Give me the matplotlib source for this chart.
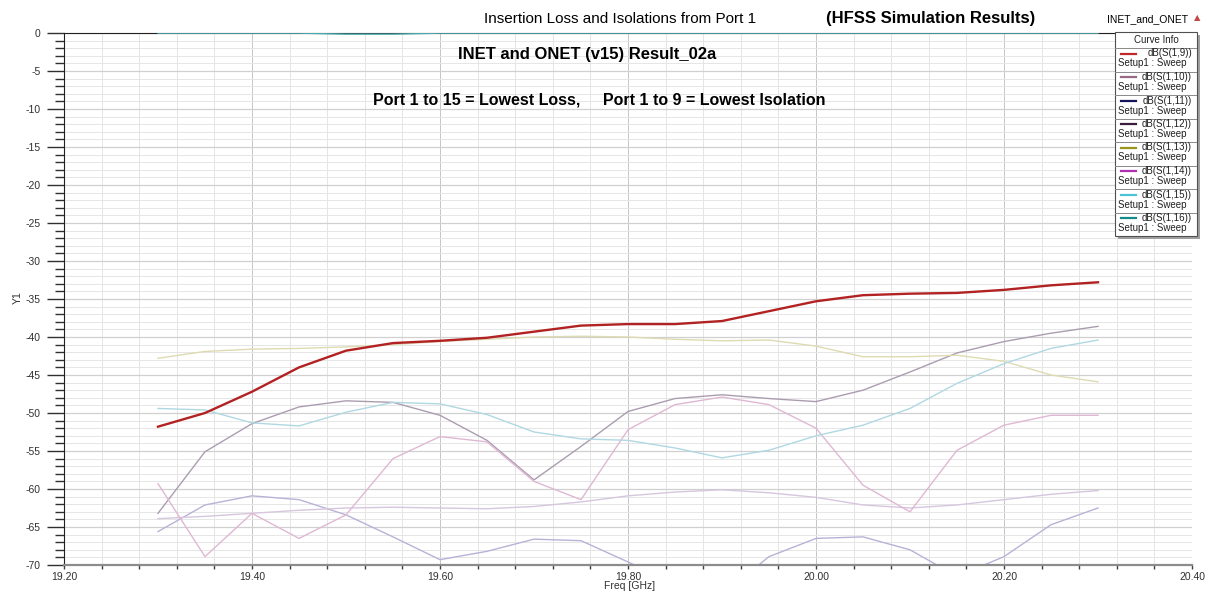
import matplotlib
matplotlib.use('Agg')
import matplotlib.pyplot as plt
from matplotlib.ticker import MultipleLocator, FuncFormatter
from matplotlib.patches import Rectangle

plt.rcParams['font.family'] = ['Liberation Sans', 'DejaVu Sans']
plt.rcParams['axes.unicode_minus'] = False

## frequency sweep points (GHz)
freq = [19.30, 19.35, 19.40, 19.45, 19.50, 19.55, 19.60, 19.65, 19.70, 19.75, 19.80,
        19.85, 19.90, 19.95, 20.00, 20.05, 20.10, 20.15, 20.20, 20.25, 20.30]

## S-parameters in dB
s_1_9 = [-51.8, -50.0, -47.2, -44.0, -41.8, -40.8, -40.5, -40.1, -39.3, -38.5, -38.3,
         -38.3, -37.9, -36.6, -35.3, -34.5, -34.3, -34.2, -33.8, -33.2, -32.8]
s_1_10 = [-63.2, -55.1, -51.4, -49.2, -48.4, -48.6, -50.3, -53.6, -58.8, -54.4, -49.8,
          -48.1, -47.6, -48.1, -48.5, -47.0, -44.6, -42.1, -40.6, -39.5, -38.6]
s_1_11 = [-65.6, -62.1, -60.9, -61.4, -63.4, -66.3, -69.3, -68.2, -66.6, -66.8, -69.6,
          -72.5, -73.9, -68.9, -66.5, -66.3, -68.0, -71.5, -68.9, -64.7, -62.5]
s_1_12 = [-63.9, -63.6, -63.2, -62.8, -62.5, -62.4, -62.5, -62.6, -62.3, -61.7, -60.9,
          -60.4, -60.1, -60.5, -61.1, -62.1, -62.5, -62.1, -61.4, -60.7, -60.2]
s_1_13 = [-42.8, -41.9, -41.6, -41.5, -41.3, -41.0, -40.6, -40.3, -40.0, -39.9, -40.0,
          -40.3, -40.5, -40.4, -41.2, -42.6, -42.6, -42.4, -43.2, -45.0, -45.9]
s_1_14 = [-59.3, -68.9, -63.2, -66.5, -63.4, -56.0, -53.1, -53.8, -59.0, -61.4, -52.2,
          -48.9, -47.9, -48.9, -52.0, -59.5, -63.0, -54.9, -51.6, -50.3, -50.3]
s_1_15 = [-49.4, -49.6, -51.3, -51.7, -49.9, -48.6, -48.8, -50.2, -52.5, -53.4, -53.6,
          -54.6, -55.9, -54.9, -53.0, -51.6, -49.4, -46.1, -43.5, -41.5, -40.4]
s_1_16 = [-0.02, -0.02, -0.02, -0.02, -0.15, -0.15, -0.02, -0.02, -0.02, -0.02, -0.02,
          -0.02, -0.02, -0.02, -0.02, -0.02, -0.02, -0.02, -0.02, -0.02, -0.02]

curve_names = ['dB(S(1,9))', 'dB(S(1,10))', 'dB(S(1,11))', 'dB(S(1,12))',
               'dB(S(1,13))', 'dB(S(1,14))', 'dB(S(1,15))', 'dB(S(1,16))']
curve_data = [s_1_9, s_1_10, s_1_11, s_1_12, s_1_13, s_1_14, s_1_15, s_1_16]
legend_colors = ['#c0282a', '#9a6a82', '#14145a', '#3c1c3c',
                 '#9a9418', '#b030b0', '#48c4d4', '#148a8a']
line_colors = ['#b22222', '#ab9db0', '#b8b2d6', '#d6c6de',
               '#dedab2', '#dfb8d3', '#b0d8e2', '#4aa8ac']

W, H = 1207, 591
fig = plt.figure(figsize=(W / 100, H / 100), dpi=100)
ax = fig.add_axes([64 / W, 1 - 565 / H, 1128 / W, 532 / H])

for i in range(1, 8):
    ax.plot(freq, curve_data[i], color=line_colors[i], lw=1.0,
            zorder=3 if i == 7 else 2)
ax.plot(freq, s_1_9, color=line_colors[0], lw=1.7, zorder=4)

ax.set_xlim(19.2, 20.4)
ax.set_ylim(-70, 0)
ax.xaxis.set_major_locator(MultipleLocator(0.2))
ax.xaxis.set_minor_locator(MultipleLocator(0.04))
ax.yaxis.set_major_locator(MultipleLocator(5))
ax.yaxis.set_minor_locator(MultipleLocator(1))
ax.xaxis.set_major_formatter(FuncFormatter(lambda v, p: '%.2f' % v))
ax.yaxis.set_major_formatter(FuncFormatter(lambda v, p: '%d' % round(v)))

ax.grid(which='major', axis='x', color='#c6c6ca', lw=0.7)
ax.grid(which='minor', axis='x', color='#e0e0e0', lw=0.6)
ax.grid(which='major', axis='y', color='#d0d0d0', lw=0.9)
ax.grid(which='minor', axis='y', color='#e6e6e6', lw=0.7)
ax.set_axisbelow(True)

ax.tick_params(axis='y', which='major', length=12, width=1, color='#303030',
               pad=5, labelsize=7.5, labelcolor='#303030')
ax.tick_params(axis='y', which='minor', length=6.5, width=1, color='#303030')
ax.tick_params(axis='x', which='both', length=3, width=1, color='#404040',
               pad=2, labelsize=7.5, labelcolor='#303030')

ax.spines['right'].set_visible(False)
ax.spines['top'].set_color('#202020')
ax.spines['top'].set_linewidth(0.8)
ax.spines['left'].set_color('#202020')
ax.spines['bottom'].set_color('#8c8c8c')
ax.spines['bottom'].set_linewidth(1.6)

fig.text(630 / W, 1 - 586 / H, 'Freq [GHz]', ha='center', va='center',
         fontsize=7.5, color='#303030')
fig.text(18 / W, 1 - 298 / H, 'Y1', ha='center', va='center', rotation=90,
         fontsize=7.5, color='#303030')

## titles / annotations
fig.text(620 / W, 1 - 19 / H, 'Insertion Loss and Isolations from Port 1',
         ha='center', va='center', fontsize=11)
fig.text(931 / W, 1 - 19 / H, '(HFSS Simulation Results)',
         ha='center', va='center', fontsize=12, weight='bold')
fig.text(1148 / W, 1 - 19 / H, 'INET_and_ONET', ha='center', va='center', fontsize=7.5)
fig.text(1197 / W, 1 - 18 / H, '\u25b2', ha='center', va='center', fontsize=6,
         color='#c04848', family=['DejaVu Sans'])
fig.text(587 / W, 1 - 55 / H, 'INET and ONET (v15) Result_02a',
         ha='center', va='center', fontsize=12, weight='bold')
fig.text(599 / W, 1 - 100 / H,
         'Port 1 to 15 = Lowest Loss,     Port 1 to 9 = Lowest Isolation',
         ha='center', va='center', fontsize=11.5, weight='bold')

## HFSS style "Curve Info" box
lax = fig.add_axes([1115 / W, 1 - 236 / H, 82 / W, 204 / H])
lax.set_xlim(0, 82)
lax.set_ylim(204, 0)
lax.axis('off')
lax.add_patch(Rectangle((3, 3), 82, 204, facecolor='#a0a0a0', edgecolor='none',
                        clip_on=False, zorder=0))
lax.add_patch(Rectangle((0, 0), 82, 204, facecolor='white', edgecolor='#505050',
                        lw=0.8, clip_on=False, zorder=1))
lax.text(41, 8, 'Curve Info', ha='center', va='center', fontsize=7, color='#202020')
lax.plot([0, 82], [16, 16], color='#8a8a8a', lw=0.7)
row_h = 23.5
for i, name in enumerate(curve_names):
    top = 16 + i * row_h
    lax.plot([6, 21], [top + 5.5, top + 5.5], color=legend_colors[i], lw=1.6)
    lax.text(77, top + 5.5, name, ha='right', va='center', fontsize=7, color='#202020')
    lax.text(2.5, top + 15.5, 'Setup1 : Sweep', ha='left', va='center', fontsize=7,
             color='#202020')
    if i < len(curve_names) - 1:
        lax.plot([0, 82], [top + row_h, top + row_h], color='#8a8a8a', lw=0.7)

fig.savefig('out.png', dpi=100)
